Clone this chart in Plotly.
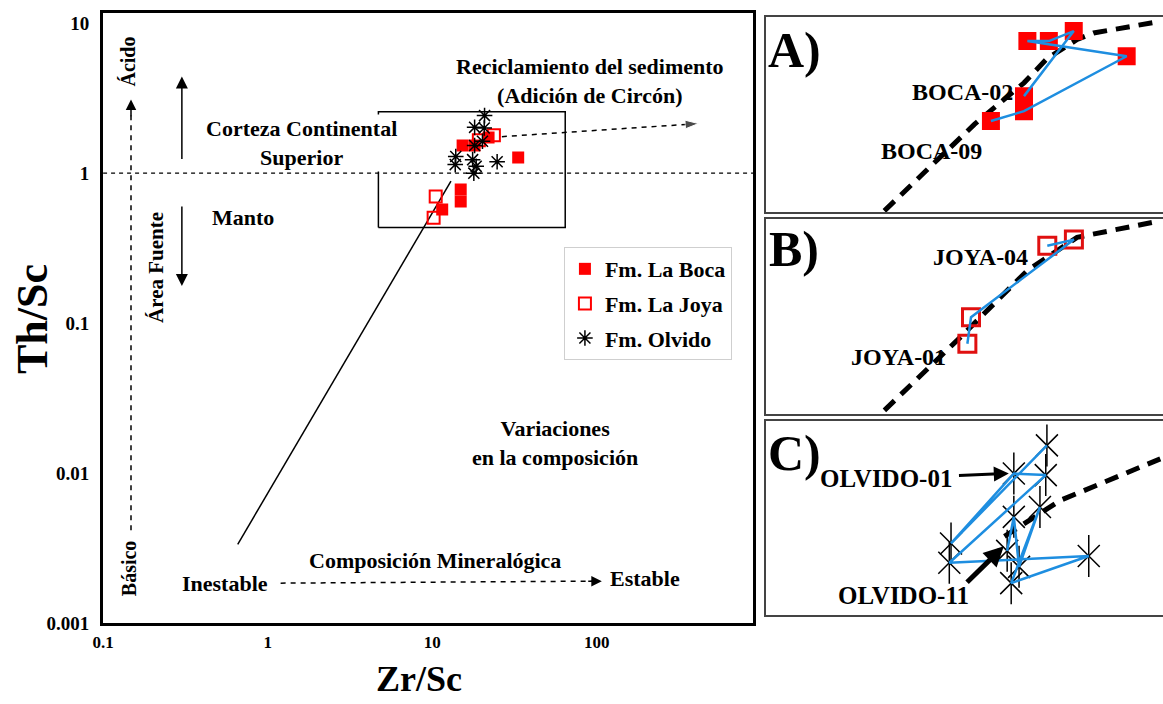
import plotly.graph_objects as go

W, H = 1163, 704
SERIF = "Liberation Serif"

# ---------------- data ----------------
# Fm. La Boca (filled red squares), in the order joined by the blue line of inset A
boca_x = [14.9, 22.0, 18.1, 15.3, 33.3, 14.9, 11.5]
boca_y = [0.778, 1.73, 1.53, 1.53, 1.27, 0.647, 0.573]
# Fm. La Joya (open red squares) JOYA-01 ... JOYA-04
joya_x = [10.2, 10.5, 23.7, 19.2]
joya_y = [0.505, 0.698, 1.79, 1.66]
# Fm. Olvido (asterisks), in the order joined by the blue line of inset C
olvido_x = [20.8, 13.9, 18.1, 20.7, 13.8, 24.8, 17.9, 20.2, 18.5, 18.1, 17.6]
olvido_y = [2.42, 1.29, 2.02, 2.00, 1.14, 1.19, 1.00, 1.63, 1.11, 1.53, 1.23]

# trend lines of the main diagram
trend_x = [0.658, 13.0]
trend_y = [0.00335, 0.885]
recycle_x = [26.5, 415.0]
recycle_y = [1.75, 2.14]
box_x = [4.71, 64.3, 64.3, 4.71, 4.71]
box_y = [0.434, 0.434, 2.57, 2.57, 0.434]
unity_x = [0.1, 900.0]
unity_y = [1.0, 1.0]

# dashed guide curves drawn in the three insets
guideA_x = [4.99, 10.1, 14.9, 17.9, 22.6, 25.7, 43.3]
guideA_y = [0.19, 0.55, 0.916, 1.24, 1.56, 1.69, 1.95]
guideB_x = [5.29, 9.69, 16.4, 24.3, 46.9]
guideB_y = [0.225, 0.55, 1.23, 1.84, 2.25]
guideC_x = [17.4, 22.0, 33.5]
guideC_y = [1.35, 1.70, 2.22]

x_ticks = [0.1, 1, 10, 100]
x_ticktext = ["0.1", "1", "10", "100"]
y_ticks = [0.001, 0.01, 0.1, 1, 10]
y_ticktext = ["0.001", "0.01", "0.1", "1", "10"]

RED = "#ff0000"
BLUE = "#1e8ee0"

# page-photo calibration: photographed px = OX + SX * figure px  (measured)
OX, SX = 7.7, 0.993
OY, SY = 0.3, 0.987


def fpx(rx, ry):
    """reference-picture pixel -> figure pixel"""
    return (rx - OX) / SX, (ry - OY) / SY


def pp(rx, ry):
    fx, fy = fpx(rx, ry)
    return fx / W, 1 - fy / H


def dom_x(r0, r1):
    return [max(0.0, pp(r0, 0)[0]), min(1.0, pp(r1, 0)[0])]


def dom_y(rtop, rbot):
    return [max(0.0, pp(0, rbot)[1]), min(1.0, pp(0, rtop)[1])]


fig = go.Figure()

# ---------------- main diagram ----------------
fig.add_trace(go.Scatter(x=unity_x, y=unity_y, mode="lines", showlegend=False,
                         line=dict(color="black", width=1.3, dash="4px,4px"), hoverinfo="skip"))
fig.add_trace(go.Scatter(x=box_x, y=box_y, mode="lines", showlegend=False,
                         line=dict(color="black", width=1.5), hoverinfo="skip"))
fig.add_trace(go.Scatter(x=trend_x, y=trend_y, mode="lines", showlegend=False,
                         line=dict(color="black", width=1.5), hoverinfo="skip"))
fig.add_trace(go.Scatter(x=recycle_x, y=recycle_y, mode="lines+markers", showlegend=False,
                         line=dict(color="black", width=1.5, dash="5px,5px"),
                         marker=dict(symbol="arrow", size=[0, 14], angleref="previous", color="black"),
                         hoverinfo="skip"))

fig.add_trace(go.Scatter(x=boca_x, y=boca_y, mode="markers", name="Fm. La Boca",
                         legendgroup="a",
                         marker=dict(symbol="square", size=12, color=RED)))
fig.add_trace(go.Scatter(x=joya_x, y=joya_y, mode="markers", name="Fm. La Joya",
                         legendgroup="b",
                         marker=dict(symbol="square-open", size=12, color=RED, line=dict(width=2, color=RED))))
fig.add_trace(go.Scatter(x=olvido_x, y=olvido_y, mode="markers", name="Fm. Olvido",
                         legendgroup="c",
                         marker=dict(symbol="asterisk-open", size=13, color="black", line=dict(width=1.5, color="black"))))

# ---------------- insets ----------------
insets = [
    ("x2", "y2", boca_x, boca_y, guideA_x, guideA_y,
     dict(symbol="square", size=18, color=RED)),
    ("x3", "y3", joya_x, joya_y, guideB_x, guideB_y,
     dict(symbol="square-open", size=17, color="#e01010", line=dict(width=3, color="#e01010"))),
    ("x4", "y4", olvido_x, olvido_y, guideC_x, guideC_y, None),
]
for xa, ya, dx, dy, gx, gy, mk in insets:
    fig.add_trace(go.Scatter(x=gx, y=gy, xaxis=xa, yaxis=ya, mode="lines", showlegend=False,
                             line=dict(color="black", width=5, dash="14px,9px"), hoverinfo="skip"))
    if mk is not None:
        fig.add_trace(go.Scatter(x=dx, y=dy, xaxis=xa, yaxis=ya, mode="markers", showlegend=False,
                                 marker=mk))
    else:
        fig.add_trace(go.Scatter(x=dx, y=dy, xaxis=xa, yaxis=ya, mode="markers", showlegend=False,
                                 marker=dict(symbol="x-thin-open", size=22, color="black",
                                             line=dict(width=1.5, color="black"))))
        fig.add_trace(go.Scatter(x=dx, y=dy, xaxis=xa, yaxis=ya, mode="markers", showlegend=False,
                                 marker=dict(symbol="line-ns-open", size=30, color="black",
                                             line=dict(width=1.5, color="black"))))
    fig.add_trace(go.Scatter(x=dx, y=dy, xaxis=xa, yaxis=ya, mode="lines", showlegend=False,
                             line=dict(color=BLUE, width=2.5)))

xtickfont = dict(family=SERIF, size=17, color="black", weight="bold")
ytickfont = dict(family=SERIF, size=19, color="black", weight="bold")
main_common = dict(type="log", showgrid=False, zeroline=False, showline=True, mirror=True,
                   linecolor="black", linewidth=3, ticks="")
fig.update_layout(
    xaxis=dict(domain=dom_x(100, 752), range=[-1, 2.952], tickvals=x_ticks, ticktext=x_ticktext,
               ticklabelstandoff=2, tickfont=xtickfont, **main_common),
    yaxis=dict(domain=dom_y(13, 625), range=[-3, 1.07], tickvals=y_ticks, ticktext=y_ticktext,
               ticklabelstandoff=7, tickfont=ytickfont, **main_common),
)

inset_x = dict(type="log", showgrid=False, zeroline=False, showticklabels=False, ticks="",
               showline=True, mirror=True, linecolor="#444444", linewidth=2)
inset_y = dict(type="log", showgrid=False, zeroline=False, showticklabels=False, ticks="",
               showline=True, mirror=False, linecolor="#444444", linewidth=2)
fig.update_layout(
    xaxis2=dict(domain=dom_x(765, 1170), range=[0.297, 1.646], anchor="y2", **inset_x),
    yaxis2=dict(domain=dom_y(17, 213), range=[-0.728, 0.315], anchor="x2", **inset_y),
    xaxis3=dict(domain=dom_x(765, 1170), range=[0.318, 1.681], anchor="y3", **inset_x),
    yaxis3=dict(domain=dom_y(220, 415), range=[-0.665, 0.361], anchor="x3", **inset_y),
    xaxis4=dict(domain=dom_x(765, 1170), range=[0.806, 1.530], anchor="y4", **inset_x),
    yaxis4=dict(domain=dom_y(422, 617), range=[-0.089, 0.453], anchor="x4", **inset_y),
)

# ---------------- text ----------------
ann = []


def text(rx, ry, s, size=22, angle=0, bg=None):
    x, y = pp(rx, ry)
    d = dict(x=x, y=y, xref="paper", yref="paper", text=s, showarrow=False, textangle=angle,
             font=dict(family=SERIF, size=size, color="black", weight="bold"),
             xanchor="center", yanchor="middle")
    if bg:
        d["bgcolor"] = bg
    ann.append(d)


def arrow(tx, ty, fx, fy, width=1.5, size=1.6, head=2):
    x, y = pp(tx, ty)
    t = fpx(tx, ty)
    f = fpx(fx, fy)
    ann.append(dict(x=x, y=y, xref="paper", yref="paper", ax=f[0] - t[0], ay=f[1] - t[1],
                    axref="pixel", ayref="pixel", text="", showarrow=True,
                    arrowhead=head, arrowsize=size, arrowwidth=width, arrowcolor="black"))


text(125, 62, "Ácido", 20, -90)
text(126, 570, "Básico", 20, -90)
text(153, 268, "Área Fuente", 21, -90)
text(299, 144, "Corteza Continental<br>Superior", 22, bg="white")
text(240, 218, "Manto", 22)
text(588, 82, "Reciclamiento del sedimento<br>(Adición de Circón)", 22)
text(553, 444, "Variaciones<br>en la composición", 22)
text(433, 562, "Composición Mineralógica", 22)
text(222, 585, "Inestable", 22)
text(643, 580, "Estable", 22)
text(30, 320, "Th/Sc", 44, -90)
text(417, 681, "Zr/Sc", 36)
text(793, 50, "A)", 50)
text(793, 250, "B)", 50)
text(793, 455, "C)", 50)
text(962, 93, "BOCA-02", 24)
text(930, 152, "BOCA-09", 24)
text(980, 258, "JOYA-04", 24)
text(897, 358, "JOYA-01", 24)
text(885, 480, "OLVIDO-01", 25)
text(902, 597, "OLVIDO-11", 25)

arrow(179, 77, 179, 160)
arrow(179, 287, 179, 207)
arrow(128, 100, 128, 118, width=1.5, size=1.4)
arrow(600, 583, 585, 583, width=1.5, size=1.4)
arrow(1008, 475, 957, 477, width=3, size=1.0)
arrow(1003, 548, 965, 585, width=5, size=0.8)

shapes = []
for (x0, y0, x1, y1) in [(128, 532, 128, 116), (278, 585, 590, 583)]:
    a0, b0 = pp(x0, y0)
    a1, b1 = pp(x1, y1)
    shapes.append(dict(type="line", xref="paper", yref="paper", x0=a0, y0=b0, x1=a1, y1=b1,
                       line=dict(color="black", width=1.5, dash="5px,5px")))

lx, ly = pp(562, 248)
fig.update_layout(
    annotations=ann, shapes=shapes,
    width=W, height=H, margin=dict(l=0, r=0, t=0, b=0),
    paper_bgcolor="white", plot_bgcolor="white",
    legend=dict(x=lx, y=ly, xanchor="left", yanchor="top", bgcolor="white",
                bordercolor="#cfcfcf", borderwidth=1, tracegroupgap=3,
                font=dict(family=SERIF, size=22, color="black", weight="bold")),
    showlegend=True,
)

fig.write_html("out.html", config={"displayModeBar": False},
               post_script="document.body.style.margin='0';")
